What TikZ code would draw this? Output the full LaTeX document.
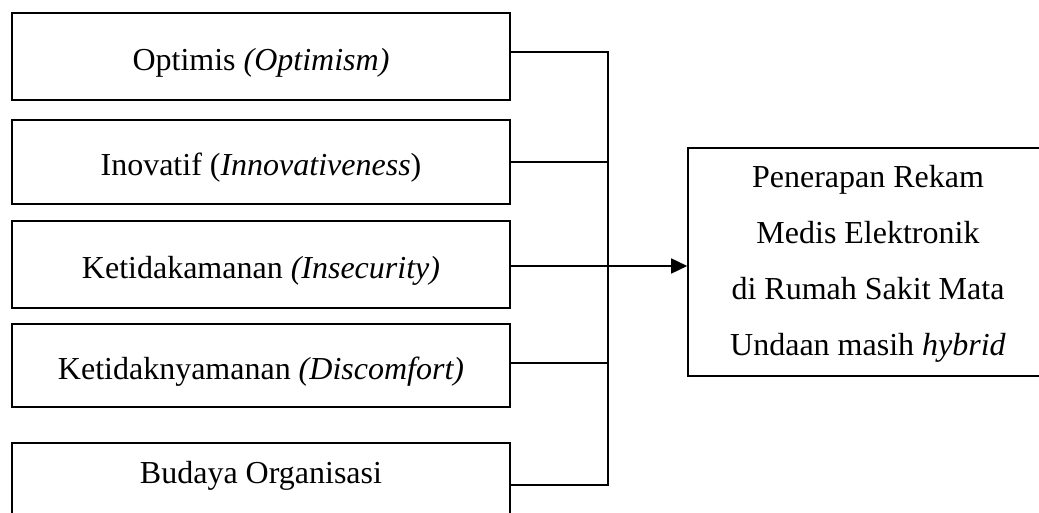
\documentclass[tikz,border=0pt]{standalone}
\usepackage{fontspec}
\setmainfont{Liberation Serif}
\usetikzlibrary{arrows.meta}
\begin{document}
\begin{tikzpicture}[x=1pt,y=-1pt,line width=1.6pt,
  lbox/.style={draw, minimum width=498pt, inner sep=0pt,
    font=\fontsize{32}{40}\selectfont, text height=30pt, text depth=2pt},
  ttext/.style={font=\fontsize{32}{56}\selectfont, align=center, inner sep=0pt},
  conn/.style={line width=1.6pt}]
\clip (0,0) rectangle (1039,513);
\node[lbox, minimum height=87pt] (b1) at (261,56.5) {Optimis \textit{(Optimism)}};
\node[lbox, minimum height=84pt] (b2) at (261,162) {Inovatif (\textit{Innovativeness})};
\node[lbox, minimum height=87pt] (b3) at (261,264.5) {Ketidakamanan \textit{(Insecurity)}};
\node[lbox, minimum height=83pt] (b4) at (261,365.5) {Ketidaknyamanan \textit{(Discomfort)}};
\node[lbox, minimum height=90pt] (b5) at (261,488) {};
\node[ttext] (t5) at (261,476) {Budaya Organisasi};
\node[draw, minimum width=372pt, minimum height=228pt, inner sep=0pt] (out) at (874,262) {};
\node[ttext] (outtext) at (868,264) {Penerapan Rekam\\Medis Elektronik\\di Rumah Sakit Mata\\Undaan masih \textit{hybrid}};
\coordinate (bot) at (608,485);
\draw[conn] ([yshift=4.5pt]b1.east) -| (bot) -- ([yshift=3pt]b5.east);
\draw[conn] (b2.east) -- (b2.east -| bot);
\draw[conn] ([yshift=2.5pt]b4.east) -- ([yshift=2.5pt]b4.east -| bot);
\draw[conn, -{Triangle[length=16pt,width=15pt]}] ([yshift=-1.5pt]b3.east) -- ([yshift=-1.5pt]b3.east -| out.west);
\end{tikzpicture}
\end{document}
